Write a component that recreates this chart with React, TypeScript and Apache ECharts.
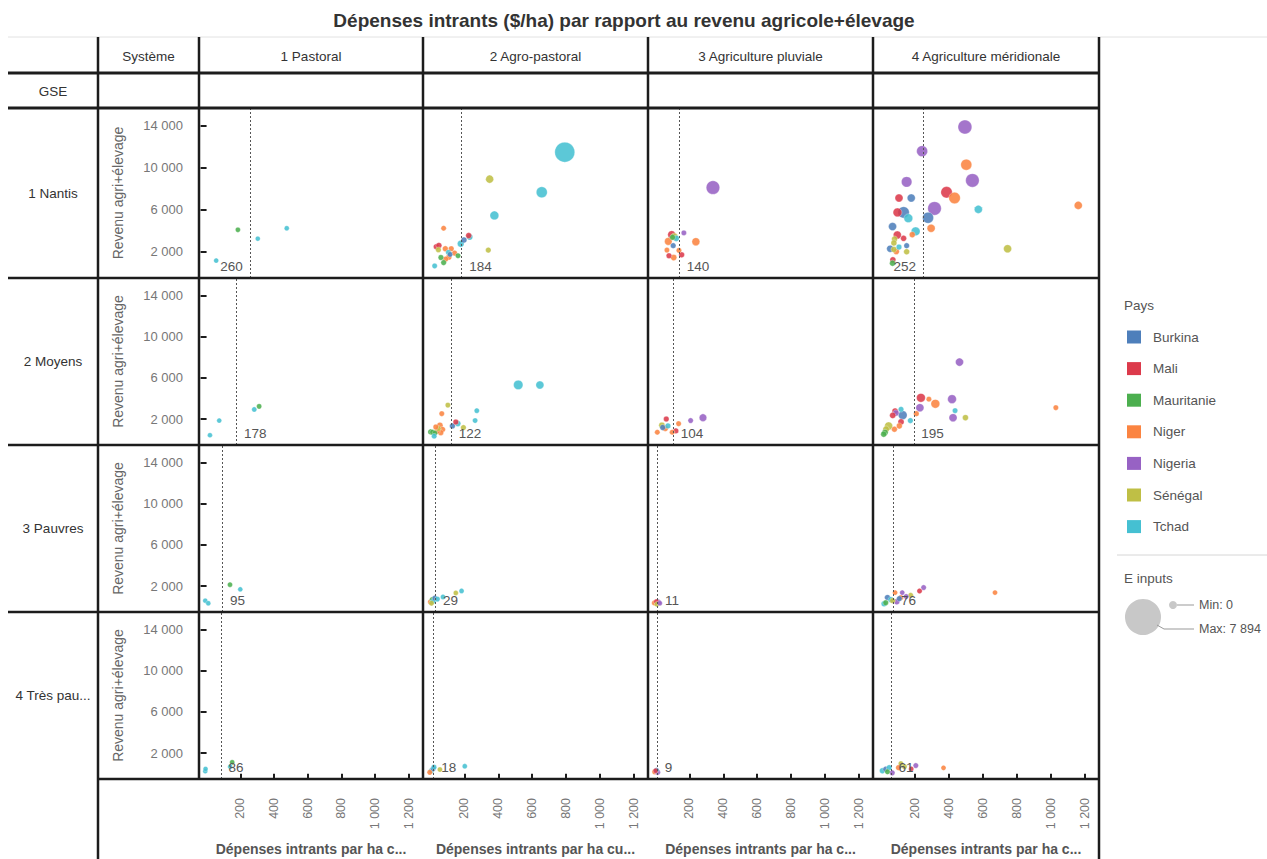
import React, { useEffect, useRef } from "react";
import * as echarts from "echarts";

type Pt = [string, number, number, number]; // pays, dépenses intrants ($/ha), revenu agri+élevage, E inputs

const countries = ["Burkina", "Mali", "Mauritanie", "Niger", "Nigeria", "Sénégal", "Tchad"];
const countryColors = ["#4e7fbb", "#dc3a4b", "#4caf4f", "#fb8441", "#9762c4", "#bfbf45", "#45c0d2"];
const systemes = ["1 Pastoral", "2 Agro-pastoral", "3 Agriculture pluviale", "4 Agriculture méridionale"];
const gseGroups = ["1 Nantis", "2 Moyens", "3 Pauvres", "4 Très pau..."];
const xTicks = [200, 400, 600, 800, 1000, 1200];
const yTicks = [2000, 6000, 10000, 14000];
const xTitles = [
  "Dépenses intrants par ha c...",
  "Dépenses intrants par ha cu...",
  "Dépenses intrants par ha c...",
  "Dépenses intrants par ha c...",
];
const eInputsMin = 0;
const eInputsMax = 7894;

// Valeurs de référence (ligne pointillée) par GSE et par système
const refNantis = [260, 184, 140, 252];
const refMoyens = [178, 122, 104, 195];
const refPauvres = [95, 29, 11, 76];
const refTresPauvres = [86, 18, 9, 61];

// 1 Nantis
const nantisPastoral: Pt[] = [
  ["Tchad", 57, 1160, 30], ["Mauritanie", 186, 4090, 40], ["Tchad", 304, 3250, 30], ["Tchad", 476, 4240, 30],
];
const nantisAgroPastoral: Pt[] = [
  ["Tchad", 793, 11490, 7894], ["Sénégal", 349, 8920, 490], ["Tchad", 657, 7670, 1500], ["Tchad", 377, 5460, 700],
  ["Niger", 77, 4240, 60], ["Sénégal", 341, 2160, 80], ["Mali", 225, 3540, 120], ["Tchad", 231, 3410, 150],
  ["Burkina", 197, 3120, 120], ["Tchad", 178, 2770, 250], ["Mali", 34, 2480, 120], ["Mali", 49, 2600, 120],
  ["Sénégal", 46, 2190, 80], ["Niger", 87, 2290, 100], ["Niger", 122, 2290, 80], ["Tchad", 105, 1940, 60],
  ["Niger", 142, 1870, 80], ["Mauritanie", 162, 1620, 60], ["Niger", 108, 1490, 100], ["Niger", 89, 1300, 80],
  ["Mauritanie", 61, 1450, 80], ["Mauritanie", 77, 970, 80], ["Tchad", 24, 650, 60], ["Burkina", 115, 1750, 50],
];
const nantisPluviale: Pt[] = [
  ["Nigeria", 339, 8120, 2800], ["Nigeria", 167, 3800, 60], ["Niger", 238, 2960, 490], ["Mali", 95, 3630, 490],
  ["Sénégal", 111, 3440, 300], ["Tchad", 122, 3280, 150], ["Niger", 75, 2990, 400], ["Burkina", 104, 2580, 80],
  ["Niger", 67, 2160, 60], ["Niger", 138, 2130, 60], ["Mali", 154, 1710, 100], ["Mali", 79, 1620, 80],
  ["Niger", 107, 1450, 150], ["Mauritanie", 100, 3380, 100],
];
const nantisMeridionale: Pt[] = [
  ["Nigeria", 496, 13890, 3000], ["Nigeria", 244, 11590, 1500], ["Niger", 504, 10300, 1500], ["Nigeria", 540, 8800, 2800],
  ["Nigeria", 153, 8660, 1300], ["Mali", 388, 7670, 1700], ["Niger", 435, 7130, 1700], ["Mali", 108, 7130, 500],
  ["Burkina", 180, 7130, 500], ["Nigeria", 317, 6130, 2800], ["Tchad", 575, 6040, 500], ["Niger", 1163, 6420, 500],
  ["Burkina", 135, 5750, 1700], ["Mali", 99, 5750, 700], ["Tchad", 163, 5200, 700], ["Burkina", 279, 5240, 1500],
  ["Burkina", 70, 4400, 500], ["Niger", 297, 4240, 500], ["Tchad", 206, 3950, 700], ["Niger", 186, 3630, 120],
  ["Mali", 98, 3600, 500], ["Mali", 135, 3280, 120], ["Sénégal", 82, 3220, 120], ["Sénégal", 78, 2840, 120],
  ["Burkina", 153, 2580, 80], ["Tchad", 108, 2450, 80], ["Burkina", 56, 2290, 300], ["Sénégal", 747, 2290, 500],
  ["Sénégal", 78, 2220, 120], ["Niger", 92, 2030, 150], ["Sénégal", 153, 2000, 120], ["Mali", 72, 1230, 120],
  ["Mauritanie", 70, 910, 120],
];

// 2 Moyens
const moyensPastoral: Pt[] = [
  ["Tchad", 20, 450, 30], ["Tchad", 75, 1870, 30], ["Tchad", 283, 2950, 40], ["Mauritanie", 312, 3250, 50],
];
const moyensAgroPastoral: Pt[] = [
  ["Tchad", 518, 5330, 900], ["Tchad", 646, 5330, 500], ["Sénégal", 102, 3370, 60], ["Tchad", 273, 2830, 50],
  ["Niger", 66, 2540, 60], ["Tchad", 263, 1870, 50], ["Mali", 149, 1730, 80], ["Burkina", 129, 1350, 100],
  ["Tchad", 161, 1580, 120], ["Sénégal", 194, 1190, 80], ["Niger", 55, 1400, 150], ["Niger", 70, 1000, 120],
  ["Niger", 60, 700, 100], ["Sénégal", 45, 1100, 80], ["Mauritanie", 0, 770, 80], ["Mauritanie", 12, 740, 80],
  ["Mauritanie", 25, 650, 60], ["Tchad", 21, 360, 60], ["Niger", 31, 1250, 80], ["Niger", 40, 850, 100],
];
const moyensPluviale: Pt[] = [
  ["Nigeria", 280, 2150, 400], ["Nigeria", 207, 1870, 60], ["Mali", 63, 2020, 80], ["Niger", 136, 1570, 60],
  ["Sénégal", 37, 1410, 150], ["Tchad", 73, 1350, 80], ["Niger", 57, 1120, 150], ["Niger", 10, 740, 60],
  ["Mali", 120, 870, 80], ["Niger", 98, 740, 60], ["Burkina", 42, 1200, 100],
];
const moyensMeridionale: Pt[] = [
  ["Nigeria", 464, 7540, 500], ["Mali", 237, 4080, 700], ["Niger", 284, 3950, 60], ["Niger", 322, 3500, 700],
  ["Nigeria", 420, 3950, 700], ["Nigeria", 231, 3120, 500], ["Tchad", 438, 2830, 60], ["Niger", 1031, 3120, 60],
  ["Nigeria", 426, 2150, 500], ["Sénégal", 499, 2150, 120], ["Niger", 210, 2540, 80], ["Tchad", 175, 1870, 80],
  ["Burkina", 130, 2400, 700], ["Mali", 85, 2790, 150], ["Nigeria", 90, 2600, 150], ["Mali", 71, 2370, 150],
  ["Tchad", 120, 2960, 80], ["Mali", 120, 1740, 150], ["Niger", 110, 1350, 120], ["Sénégal", 47, 1350, 500],
  ["Sénégal", 32, 1030, 200], ["Mauritanie", 26, 710, 150], ["Mauritanie", 18, 550, 120], ["Niger", 81, 1030, 100],
];

// 3 Pauvres
const pauvresPastoral: Pt[] = [
  ["Tchad", -8, 600, 30], ["Tchad", 10, 350, 30], ["Mauritanie", 139, 2150, 40], ["Tchad", 200, 1700, 30],
];
const pauvresAgroPastoral: Pt[] = [
  ["Tchad", 183, 1540, 40], ["Sénégal", 149, 1350, 40], ["Tchad", 73, 960, 40], ["Niger", 0, 480, 100],
  ["Mauritanie", 10, 700, 80], ["Burkina", 25, 850, 60], ["Tchad", 40, 750, 60], ["Sénégal", 5, 350, 60],
  ["Tchad", 15, 550, 80],
];
const pauvresPluviale: Pt[] = [
  ["Nigeria", 17, 450, 80], ["Niger", -7, 380, 80], ["Mali", 5, 500, 60], ["Sénégal", 8, 250, 60], ["Nigeria", 25, 350, 40],
];
const pauvresMeridionale: Pt[] = [
  ["Niger", 673, 1380, 40], ["Nigeria", 253, 1870, 60], ["Mali", 229, 1540, 60], ["Nigeria", 127, 1380, 40],
  ["Niger", 85, 1380, 40], ["Niger", 119, 900, 80], ["Sénégal", 177, 1120, 60], ["Burkina", 40, 900, 100],
  ["Tchad", 60, 700, 100], ["Mauritanie", 30, 400, 80], ["Nigeria", 95, 500, 120], ["Sénégal", 70, 600, 80],
  ["Tchad", 20, 300, 100], ["Burkina", 110, 800, 80], ["Nigeria", 150, 1000, 60],
];

// 4 Très pauvres
const tresPauvresPastoral: Pt[] = [
  ["Tchad", -8, 260, 30], ["Tchad", -6, 480, 30], ["Mauritanie", 152, 1120, 40], ["Tchad", 140, 700, 30],
];
const tresPauvresAgroPastoral: Pt[] = [
  ["Tchad", 202, 740, 40], ["Sénégal", 55, 420, 40], ["Tchad", 5, 300, 80], ["Burkina", 15, 500, 60],
  ["Niger", -5, 150, 60], ["Tchad", 20, 650, 60],
];
const tresPauvresPluviale: Pt[] = [
  ["Niger", -5, 200, 80], ["Nigeria", 12, 150, 80], ["Burkina", 5, 350, 60], ["Mali", 0, 300, 40],
];
const tresPauvresMeridionale: Pt[] = [
  ["Niger", 370, 580, 40], ["Nigeria", 207, 800, 60], ["Mali", 180, 480, 40], ["Sénégal", 119, 1000, 40],
  ["Niger", 105, 600, 80], ["Nigeria", 68, 100, 80], ["Tchad", 10, 300, 100], ["Burkina", 30, 450, 80],
  ["Mauritanie", 40, 200, 60], ["Tchad", 50, 600, 80], ["Sénégal", 140, 700, 60],
];

const panels: Pt[][][] = [
  [nantisPastoral, nantisAgroPastoral, nantisPluviale, nantisMeridionale],
  [moyensPastoral, moyensAgroPastoral, moyensPluviale, moyensMeridionale],
  [pauvresPastoral, pauvresAgroPastoral, pauvresPluviale, pauvresMeridionale],
  [tresPauvresPastoral, tresPauvresAgroPastoral, tresPauvresPluviale, tresPauvresMeridionale],
];
const refValues = [refNantis, refMoyens, refPauvres, refTresPauvres];

// Layout of the trellis table
const FONT = "'Liberation Sans', Arial, sans-serif";
const colEdges = [199, 423, 648, 873, 1099];
const rowEdges = [108, 278, 445, 612, 779];
const X_MIN = -45;
const X_MAX = 1285;
const Y_MIN = -500;
const Y_MAX = 15700;
const LINE = "#1c1c1c";

const fmtThousands = (v: number) => String(v).replace(/\B(?=(\d{3})+(?!\d))/g, " ");
const bubbleSize = (e: number) => 4 + 16 * Math.sqrt(Math.max(0, e - eInputsMin) / (eInputsMax - eInputsMin));

function buildOption() {
  const grid: any[] = [];
  const xAxis: any[] = [];
  const yAxis: any[] = [];
  const series: any[] = [];

  for (let r = 0; r < 4; r++) {
    for (let c = 0; c < 4; c++) {
      const k = r * 4 + c;
      grid.push({
        left: colEdges[c],
        width: colEdges[c + 1] - colEdges[c],
        top: rowEdges[r],
        height: rowEdges[r + 1] - rowEdges[r],
        containLabel: false,
      });
      const bottomRow = r === 3;
      xAxis.push({
        type: "value",
        gridIndex: k,
        min: X_MIN,
        max: X_MAX,
        show: bottomRow,
        splitLine: { show: false },
        axisLine: { show: false },
        axisTick: {
          show: bottomRow,
          customValues: xTicks,
          length: 6,
          lineStyle: { color: LINE, width: 2 },
        },
        axisLabel: {
          show: bottomRow,
          customValues: xTicks,
          rotate: 90,
          margin: 19,
          color: "#777",
          fontSize: 12.5,
          fontFamily: FONT,
          formatter: (v: number) => fmtThousands(v),
        },
        name: bottomRow ? xTitles[c] : "",
        nameLocation: "middle",
        nameGap: 63,
        nameTextStyle: { color: "#555", fontSize: 14, fontWeight: "bold", fontFamily: FONT },
      });
      const firstCol = c === 0;
      yAxis.push({
        type: "value",
        gridIndex: k,
        min: Y_MIN,
        max: Y_MAX,
        show: firstCol,
        splitLine: { show: false },
        axisLine: { show: false },
        axisTick: {
          show: firstCol,
          customValues: yTicks,
          length: 6,
          lineStyle: { color: LINE, width: 2 },
        },
        axisLabel: {
          show: firstCol,
          customValues: yTicks,
          margin: 16,
          color: "#777",
          fontSize: 13,
          fontFamily: FONT,
          formatter: (v: number) => fmtThousands(v),
        },
        name: firstCol ? "Revenu agri+élevage" : "",
        nameLocation: "middle",
        nameRotate: 90,
        nameGap: 74,
        nameTextStyle: { color: "#666", fontSize: 14, fontFamily: FONT },
      });

      const ref = refValues[r][c];
      const labelLeft = r === 0 && (c === 0 || c === 3);
      const pts = [...panels[r][c]].sort((a, b) => b[3] - a[3]);
      series.push({
        type: "scatter",
        xAxisIndex: k,
        yAxisIndex: k,
        clip: false,
        symbolSize: (v: number[]) => bubbleSize(v[2]),
        data: pts.map((p) => ({
          name: p[0],
          value: [p[1], p[2], p[3]],
          itemStyle: {
            color: countryColors[countries.indexOf(p[0])],
            opacity: 0.88,
            borderColor: "rgba(255,255,255,0.7)",
            borderWidth: 0.5,
          },
        })),
        markLine: {
          silent: true,
          symbol: "none",
          animation: false,
          label: { show: false },
          lineStyle: { color: "#555", type: [2, 2], width: 1 },
          data: [{ xAxis: ref }],
        },
        markPoint: {
          silent: true,
          symbol: "circle",
          symbolSize: 1,
          itemStyle: { color: "rgba(0,0,0,0)" },
          label: {
            show: true,
            position: labelLeft ? "left" : "right",
            distance: 7,
            offset: [0, -6],
            color: "#555",
            fontSize: 13.5,
            fontFamily: FONT,
            formatter: String(ref),
          },
          data: [{ coord: [ref, 0], value: ref }],
        },
      });
    }
  }

  const graphic: any[] = [];
  const line = (x1: number, y1: number, x2: number, y2: number, w = 2.5, color = LINE) =>
    graphic.push({ type: "line", z: 100, silent: true, shape: { x1, y1, x2, y2 }, style: { stroke: color, lineWidth: w } });
  const text = (t: string, x: number, y: number, opts: any = {}) =>
    graphic.push({
      type: "text",
      z: 100,
      silent: true,
      x,
      y,
      style: {
        text: t,
        fill: opts.fill || "#333",
        fontSize: opts.fontSize || 13,
        fontWeight: opts.fontWeight || "normal",
        fontFamily: FONT,
        align: opts.align || "center",
        verticalAlign: "middle",
      },
    });

  // Title
  text("Dépenses intrants ($/ha) par rapport au revenu agricole+élevage", 624, 20, { fontSize: 19, fontWeight: "bold" });

  // Table frame
  line(8, 37, 1267, 37, 1, "#e2e2e2");
  line(8, 73, 1099, 73, 3);
  line(8, 108, 1099, 108, 3);
  line(8, 278, 1099, 278);
  line(8, 445, 1099, 445);
  line(8, 612, 1099, 612);
  line(98, 779, 1099, 779);
  line(98, 37, 98, 859);
  colEdges.slice(0, 4).forEach((x) => line(x, 37, x, 779));
  line(1099, 37, 1099, 859);

  // Headers
  text("Système", 148.5, 56, { fontSize: 13.5 });
  text("GSE", 53, 91, { fontSize: 13.5 });
  systemes.forEach((s, c) => text(s, (colEdges[c] + colEdges[c + 1]) / 2, 56, { fontSize: 13.5 }));
  gseGroups.forEach((g, r) => text(g, 53, (rowEdges[r] + rowEdges[r + 1]) / 2, { fontSize: 13.5 }));

  // Colour legend
  text("Pays", 1124, 305, { align: "left", fill: "#555", fontSize: 13.5 });
  countries.forEach((name, i) => {
    const cy = 337 + i * 31.6;
    graphic.push({
      type: "rect",
      z: 100,
      silent: true,
      shape: { x: 1127, y: cy - 6.5, width: 14, height: 13 },
      style: { fill: countryColors[i] },
    });
    text(name, 1153, cy, { align: "left", fill: "#555", fontSize: 13.5 });
  });
  line(1117, 555, 1267, 555, 1, "#d6d6d6");

  // Size legend
  text("E inputs", 1124, 578, { align: "left", fill: "#555", fontSize: 13.5 });
  graphic.push({ type: "circle", z: 100, silent: true, shape: { cx: 1143, cy: 617, r: 18 }, style: { fill: "#c8c8c8" } });
  graphic.push({ type: "circle", z: 100, silent: true, shape: { cx: 1173, cy: 605, r: 4 }, style: { fill: "#c8c8c8" } });
  line(1177, 605, 1194, 605, 1, "#999");
  graphic.push({
    type: "polyline",
    z: 100,
    silent: true,
    shape: { points: [[1157, 625], [1164, 629], [1194, 629]] },
    style: { stroke: "#999", lineWidth: 1, fill: null },
  });
  text("Min: " + fmtThousands(eInputsMin), 1199, 605, { align: "left", fill: "#555", fontSize: 12.5 });
  text("Max: " + fmtThousands(eInputsMax), 1199, 629, { align: "left", fill: "#555", fontSize: 12.5 });

  return {
    animation: false,
    backgroundColor: "#ffffff",
    textStyle: { fontFamily: FONT },
    grid,
    xAxis,
    yAxis,
    series,
    graphic,
  };
}

export default function App() {
  const ref = useRef<HTMLDivElement>(null);
  useEffect(() => {
    if (!ref.current) return;
    const chart = echarts.init(ref.current, null, { renderer: "svg" });
    chart.setOption(buildOption());
    return () => chart.dispose();
  }, []);
  return (
    <div
      ref={ref}
      style={{ position: "fixed", left: 0, top: 0, width: 1267, height: 859, background: "#fff" }}
    />
  );
}
